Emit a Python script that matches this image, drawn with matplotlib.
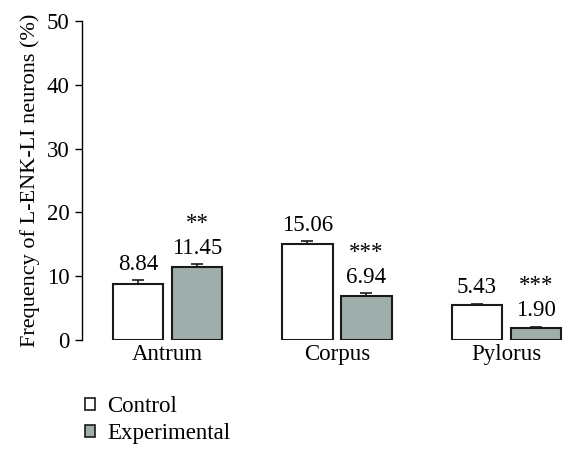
import matplotlib
matplotlib.use("Agg")
import matplotlib.pyplot as plt
from matplotlib.patches import Patch
import numpy as np

categories = ["Antrum", "Corpus", "Pylorus"]
control = [8.84, 15.06, 5.43]
experimental = [11.45, 6.94, 1.90]
control_err = [0.5, 0.4, 0.25]
experimental_err = [0.45, 0.35, 0.15]
stars_exp = ["**", "***", "***"]
series_names = ["Control", "Experimental"]
yticks = [0, 10, 20, 30, 40, 50]

plt.rcParams['font.family'] = ['Liberation Serif', 'DejaVu Serif']
FS = 16.5

fig = plt.figure(figsize=(5.76, 4.55), dpi=100)
ax = fig.add_axes([82/576, 1-340/455, 494/576, (340-21)/455])

x = np.arange(len(categories))
w = 0.30
off = 0.174
edge = '#1a1a1a'
gray = '#9fadab'

ax.bar(x - off, control, w, color='white', edgecolor=edge, linewidth=1.5, zorder=3)
ax.bar(x + off, experimental, w, color=gray, edgecolor=edge, linewidth=1.5, zorder=3)
ax.errorbar(x - off, control, yerr=control_err, fmt='none', ecolor=edge,
            elinewidth=1.2, capsize=4, capthick=1.2, zorder=2)
ax.errorbar(x + off, experimental, yerr=experimental_err, fmt='none', ecolor=edge,
            elinewidth=1.2, capsize=4, capthick=1.2, zorder=2)

for i in range(len(categories)):
    ax.annotate(f"{control[i]:.2f}", (x[i] - off, control[i] + control_err[i]),
                xytext=(0, 4), textcoords='offset points', ha='center', va='bottom', fontsize=FS)
    ax.annotate(f"{experimental[i]:.2f}", (x[i] + off, experimental[i] + experimental_err[i]),
                xytext=(0, 4), textcoords='offset points', ha='center', va='bottom', fontsize=FS)
    ax.annotate(stars_exp[i], (x[i] + off, experimental[i] + experimental_err[i]),
                xytext=(0, 22), textcoords='offset points', ha='center', va='bottom', fontsize=FS)

ax.set_xlim(-0.504, 2.41)
ax.set_ylim(0, 50)
ax.set_yticks(yticks)
ax.set_xticks(x)
ax.set_xticklabels(categories)
ax.tick_params(axis='x', length=0, pad=3, labelsize=FS)
ax.tick_params(axis='y', direction='out', length=5, width=1, labelsize=FS, pad=4)
for s in ['top', 'right', 'bottom']:
    ax.spines[s].set_visible(False)
ax.spines['left'].set_linewidth(1)
ax.set_ylabel("Frequency of L-ENK-LI neurons (%)", fontsize=FS - 0.5, labelpad=5)

handles = [Patch(facecolor='white', edgecolor=edge, linewidth=1.2),
           Patch(facecolor=gray, edgecolor=edge, linewidth=1.2)]
fig.legend(handles, series_names, loc='upper left', bbox_to_anchor=(76/576, 1-387/455),
           frameon=False, handlelength=0.45, handleheight=0.45, handletextpad=0.5,
           labelspacing=0.25, fontsize=FS, borderaxespad=0)

fig.savefig("out.png", dpi=100)
